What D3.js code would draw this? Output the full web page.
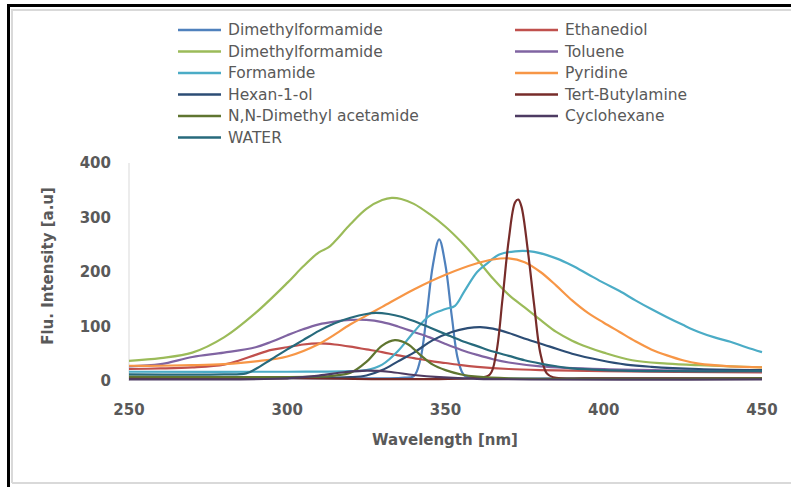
<!DOCTYPE html>
<html lang="en">
<head>
<meta charset="utf-8">
<title>Fluorescence spectra</title>
<script src="https://d3js.org/d3.v7.min.js"></script>
<style>
    body { margin: 0; background: #fff; }
    text { font-family: "DejaVu Sans", sans-serif; }
</style>
</head>
<body>
<div id="chart"></div>
<script>
    // series data: [wavelength nm, intensity a.u.]
    var dmf1 = [[250,5],[300,5],[336,6],[340,9],[342,38],[344,118],[346,212],[348,260],[350,212],[352,118],[354,38],[356,10],[360,6],[400,5],[450,5]];
    var ethanediol = [[250,22],[260,23],[270,25],[280,30],[285,38],[290,48],[295,57],[300,62],[305,67],[310,69],[315,67],[320,63],[325,58],[330,53],[335,47],[340,42],[345,37],[350,33],[355,29],[360,26],[370,22],[380,20],[400,18],[450,16]];
    var dmf2 = [[250,37],[260,42],[270,52],[280,80],[290,125],[300,180],[305,210],[310,236],[313,245],[315,256],[320,288],[325,316],[330,332],[333,336],[336,334],[340,325],[345,306],[350,283],[355,255],[360,223],[365,188],[370,158],[375,135],[380,112],[385,90],[390,74],[395,62],[400,52],[409,38],[420,32],[430,29],[440,27],[450,25]];
    var toluene = [[250,27],[260,31],[270,44],[280,52],[290,62],[295,72],[300,84],[305,95],[310,104],[315,109],[320,112],[325,112],[330,108],[335,100],[340,90],[345,80],[350,68],[355,57],[360,48],[365,40],[370,34],[380,27],[400,22],[450,18]];
    var formamide = [[250,17],[300,17],[320,18],[325,20],[330,30],[335,55],[340,90],[345,120],[350,132],[353,138],[356,165],[360,200],[363,215],[367,232],[372,238],[378,237],[385,225],[390,212],[395,196],[400,180],[405,165],[410,148],[415,132],[420,117],[425,103],[430,90],[435,80],[440,72],[445,62],[450,53]];
    var pyridine = [[250,28],[260,28],[270,29],[280,31],[290,36],[300,45],[310,68],[320,104],[325,120],[330,136],[340,168],[350,195],[360,216],[365,223],[370,225],[375,218],[380,200],[385,175],[390,148],[395,125],[400,107],[405,90],[410,73],[415,58],[420,47],[425,38],[430,32],[440,27],[450,25]];
    var hexanol = [[250,6],[300,6],[320,7],[325,10],[330,20],[335,36],[340,52],[346,75],[352,90],[357,97],[361,99],[365,96],[370,88],[376,76],[383,63],[390,50],[399,38],[407,30],[415,26],[430,22],[450,20]];
    var tertButylamine = [[250,5],[300,5],[360,6],[364,12],[366,50],[368,150],[370,260],[372,328],[373,333],[374,320],[376,240],[378,140],[380,50],[382,14],[384,7],[400,5],[450,5]];
    var dimethylAcetamide = [[250,8],[310,8],[315,10],[320,15],[325,35],[330,65],[334,75],[338,68],[342,48],[346,30],[350,20],[355,12],[360,8],[370,5],[450,5]];
    var cyclohexane = [[250,3],[300,5],[310,10],[318,16],[325,19],[332,17],[340,11],[348,7],[360,4],[450,3]];
    var water = [[250,12],[280,12],[287,14],[290,22],[295,40],[300,58],[305,75],[310,92],[315,106],[320,116],[325,123],[328,125],[332,123],[336,118],[340,110],[345,98],[350,86],[355,74],[360,64],[365,54],[370,46],[375,38],[380,32],[385,27],[390,23],[400,20],[420,18],[450,18]];

    var seriesNames = ['Dimethylformamide', 'Ethanediol', 'Dimethylformamide', 'Toluene', 'Formamide', 'Pyridine',
        'Hexan-1-ol', 'Tert-Butylamine', 'N,N-Dimethyl acetamide', 'Cyclohexane', 'WATER'];
    var seriesData = [dmf1, ethanediol, dmf2, toluene, formamide, pyridine,
        hexanol, tertButylamine, dimethylAcetamide, cyclohexane, water];
    var seriesColors = ['#4F81BD', '#C0504D', '#9BBB59', '#8064A2', '#4BACC6', '#F79646',
        '#2C4D75', '#772C2A', '#5F7530', '#4D3B62', '#276A7C'];

    var xTicks = [250, 300, 350, 400, 450];
    var yTicks = [0, 100, 200, 300, 400];

    var width = 791;
    var height = 487;

    var svg = d3.select('#chart')
        .append('svg')
        .attr('width', width)
        .attr('height', height);

    svg.append('rect').attr('width', width).attr('height', height).attr('fill', '#fff');

    // frame
    svg.append('path')
        .attr('d', 'M12,483 L12,10 L791,10 M12,483 L791,483')
        .attr('fill', 'none')
        .attr('stroke', '#d9d9d9')
        .attr('stroke-width', 2);
    svg.append('path')
        .attr('d', 'M8.5,487 L8.5,5.5 L791,5.5')
        .attr('fill', 'none')
        .attr('stroke', '#000')
        .attr('stroke-width', 3);

    var x = d3.scaleLinear().domain([250, 450]).range([129, 762]);
    var y = d3.scaleLinear().domain([0, 400]).range([381, 163]);

    // y axis line
    svg.append('line')
        .attr('x1', x(250)).attr('x2', x(250))
        .attr('y1', y(400)).attr('y2', y(0))
        .attr('stroke', '#d9d9d9')
        .attr('stroke-width', 1);

    svg.selectAll('.ytick')
        .data(yTicks)
        .enter()
        .append('text')
        .attr('class', 'ytick')
        .attr('x', 111)
        .attr('y', function(d) { return y(d); })
        .attr('dy', '0.35em')
        .attr('text-anchor', 'end')
        .attr('font-size', 15)
        .attr('font-weight', 'bold')
        .attr('fill', '#595959')
        .text(function(d) { return d; });

    svg.selectAll('.xtick')
        .data(xTicks)
        .enter()
        .append('text')
        .attr('class', 'xtick')
        .attr('x', function(d) { return x(d); })
        .attr('y', 410)
        .attr('dy', '0.35em')
        .attr('text-anchor', 'middle')
        .attr('font-size', 15)
        .attr('font-weight', 'bold')
        .attr('fill', '#595959')
        .text(function(d) { return d; });

    svg.append('text')
        .attr('x', 445)
        .attr('y', 440)
        .attr('dy', '0.35em')
        .attr('text-anchor', 'middle')
        .attr('font-size', 15)
        .attr('font-weight', 'bold')
        .attr('fill', '#595959')
        .text('Wavelength [nm]');

    svg.append('text')
        .attr('transform', 'translate(48,266) rotate(-90)')
        .attr('dy', '0.35em')
        .attr('text-anchor', 'middle')
        .attr('font-size', 15)
        .attr('font-weight', 'bold')
        .attr('fill', '#595959')
        .text('Flu. Intensity [a.u]');

    var line = d3.line()
        .x(function(d) { return x(d[0]); })
        .y(function(d) { return y(d[1]); })
        .curve(d3.curveCatmullRom.alpha(0.5));

    svg.append('g')
        .selectAll('path')
        .data(seriesData)
        .enter()
        .append('path')
        .attr('d', line)
        .attr('fill', 'none')
        .attr('stroke', function(d, i) { return seriesColors[i]; })
        .attr('stroke-width', 2.2)
        .attr('stroke-linejoin', 'round');

    // legend, two columns
    var legend = svg.append('g')
        .selectAll('g')
        .data(seriesNames)
        .enter()
        .append('g')
        .attr('transform', function(d, i) {
            var col = i % 2;
            var row = Math.floor(i / 2);
            return 'translate(' + (col === 0 ? 178 : 515) + ',' + (30 + row * 21.5) + ')';
        });

    legend.append('line')
        .attr('x1', 0).attr('x2', 43)
        .attr('y1', 0).attr('y2', 0)
        .attr('stroke', function(d, i) { return seriesColors[i]; })
        .attr('stroke-width', 2.5);

    legend.append('text')
        .attr('x', 50)
        .attr('y', 0)
        .attr('dy', '0.35em')
        .attr('font-size', 15.5)
        .attr('fill', '#595959')
        .text(function(d) { return d; });
</script>
</body>
</html>
